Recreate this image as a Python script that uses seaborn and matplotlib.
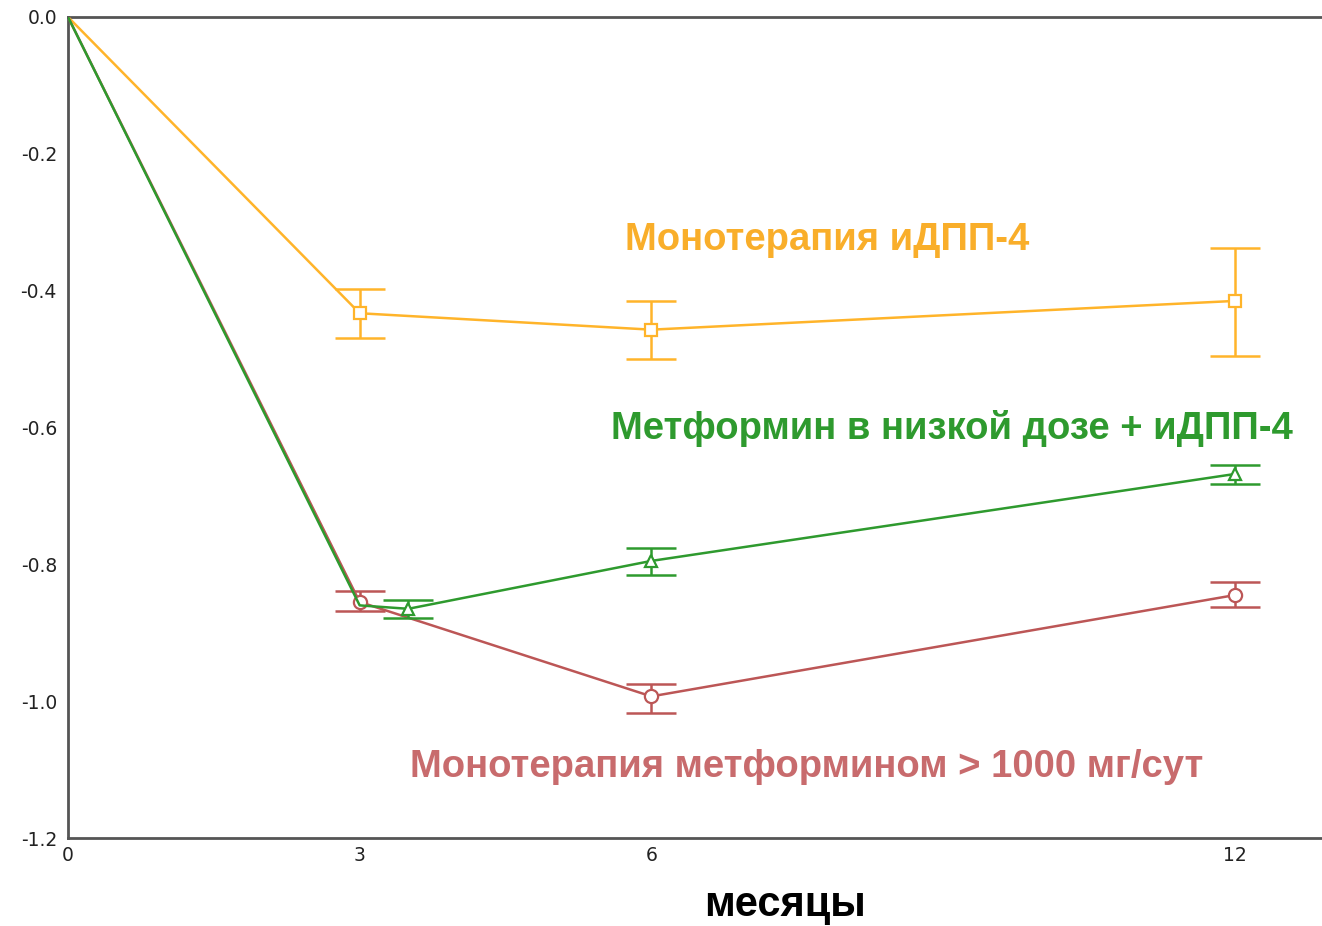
import matplotlib
matplotlib.use("Agg")
import matplotlib.pyplot as plt
import seaborn as sns
import pandas as pd

# Months of follow-up
months_dpp4 = [0, 3, 6, 12]
months_low_met = [0, 3, 3.5, 6, 12]
months_met = [0, 3, 6, 12]

# Mean change in HbA1c (%) and error bar bounds
dpp4_mean = [0.0, -0.433, -0.457, -0.415]
dpp4_low = [None, -0.469, -0.500, -0.495]
dpp4_high = [None, -0.398, -0.415, -0.338]

low_met_mean = [0.0, -0.860, -0.865, -0.795, -0.668]
low_met_low = [None, None, -0.878, -0.816, -0.683]
low_met_high = [None, None, -0.852, -0.776, -0.655]

met_mean = [0.0, -0.855, -0.993, -0.845]
met_low = [None, -0.868, -1.017, -0.862]
met_high = [None, -0.839, -0.975, -0.826]

series_names = [
    "Монотерапия иДПП-4",
    "Метформин в низкой дозе + иДПП-4",
    "Монотерапия метформином > 1000 мг/сут",
]
xticks = [0, 3, 6, 12]
yticks = [0.0, -0.2, -0.4, -0.6, -0.8, -1.0, -1.2]

sns.set_theme(style="white")
plt.rcParams["font.family"] = ["DejaVu Sans"]

fig = plt.figure(figsize=(13.22, 9.26), dpi=100)
ax = fig.add_axes([68 / 1322, 88 / 926, 1260 / 1322, 821 / 926])

orange = "#FFB42A"
green = "#2E9A2E"
red = "#BC5656"

specs = [
    (months_dpp4, dpp4_mean, dpp4_low, dpp4_high, orange, "s", [1, 2, 3], 9),
    (months_met, met_mean, met_low, met_high, red, "o", [1, 2, 3], 9.5),
    (months_low_met, low_met_mean, low_met_low, low_met_high, green, "^", [2, 3, 4], 8),
]

for i, (x, y, lo, hi, col, mk, mev, ms) in enumerate(specs):
    df = pd.DataFrame({"month": x, "value": y})
    sns.lineplot(data=df, x="month", y="value", ax=ax, color=col, lw=1.8,
                 marker=mk, markevery=mev, markersize=ms,
                 markerfacecolor="white", markeredgecolor=col,
                 markeredgewidth=1.6, zorder=3 + i)
    ex = [xi for xi, l in zip(x, lo) if l is not None]
    ey = [yi for yi, l in zip(y, lo) if l is not None]
    el = [yi - l for yi, l in zip(y, lo) if l is not None]
    eh = [h - yi for yi, h in zip(y, hi) if h is not None]
    ax.errorbar(ex, ey, yerr=[el, eh], fmt="none", ecolor=col,
                elinewidth=1.8, capsize=18, capthick=1.8, zorder=2 + i)

ax.set_xlim(0, 12.96)
ax.set_ylim(-1.2, 0.0)
ax.set_xticks(xticks)
ax.set_xticklabels([str(t) for t in xticks])
ax.set_yticks(yticks)
ax.set_yticklabels([f"{t:.1f}" for t in yticks])
ax.tick_params(axis="both", labelsize=13.5, length=4, width=1.2,
               colors="#555555", labelcolor="#222222", direction="out")
ax.tick_params(axis="x", pad=2)
ax.tick_params(axis="y", pad=4)
for side in ["left", "bottom", "top"]:
    ax.spines[side].set_color("#555555")
    ax.spines[side].set_linewidth(2)
ax.spines["right"].set_visible(False)
ax.set_xlabel("")
ax.set_ylabel("")

label_font = ["Liberation Sans", "DejaVu Sans"]
ax.text(7.81, -0.326, series_names[0], color="#F9AE2A", fontsize=27.5,
        fontweight="bold", ha="center", va="center", family=label_font)
ax.text(9.09, -0.601, series_names[1], color="#2E9A2E", fontsize=27.5,
        fontweight="bold", ha="center", va="center", family=label_font)
ax.text(7.6, -1.096, series_names[2], color="#C86B6D", fontsize=27.5,
        fontweight="bold", ha="center", va="center", family=label_font)

fig.text(785 / 1322, 1 - 905 / 926, "месяцы", color="black", fontsize=30,
         fontweight="bold", ha="center", va="center", family=label_font)

fig.savefig("out.png", dpi=100, facecolor="white")
